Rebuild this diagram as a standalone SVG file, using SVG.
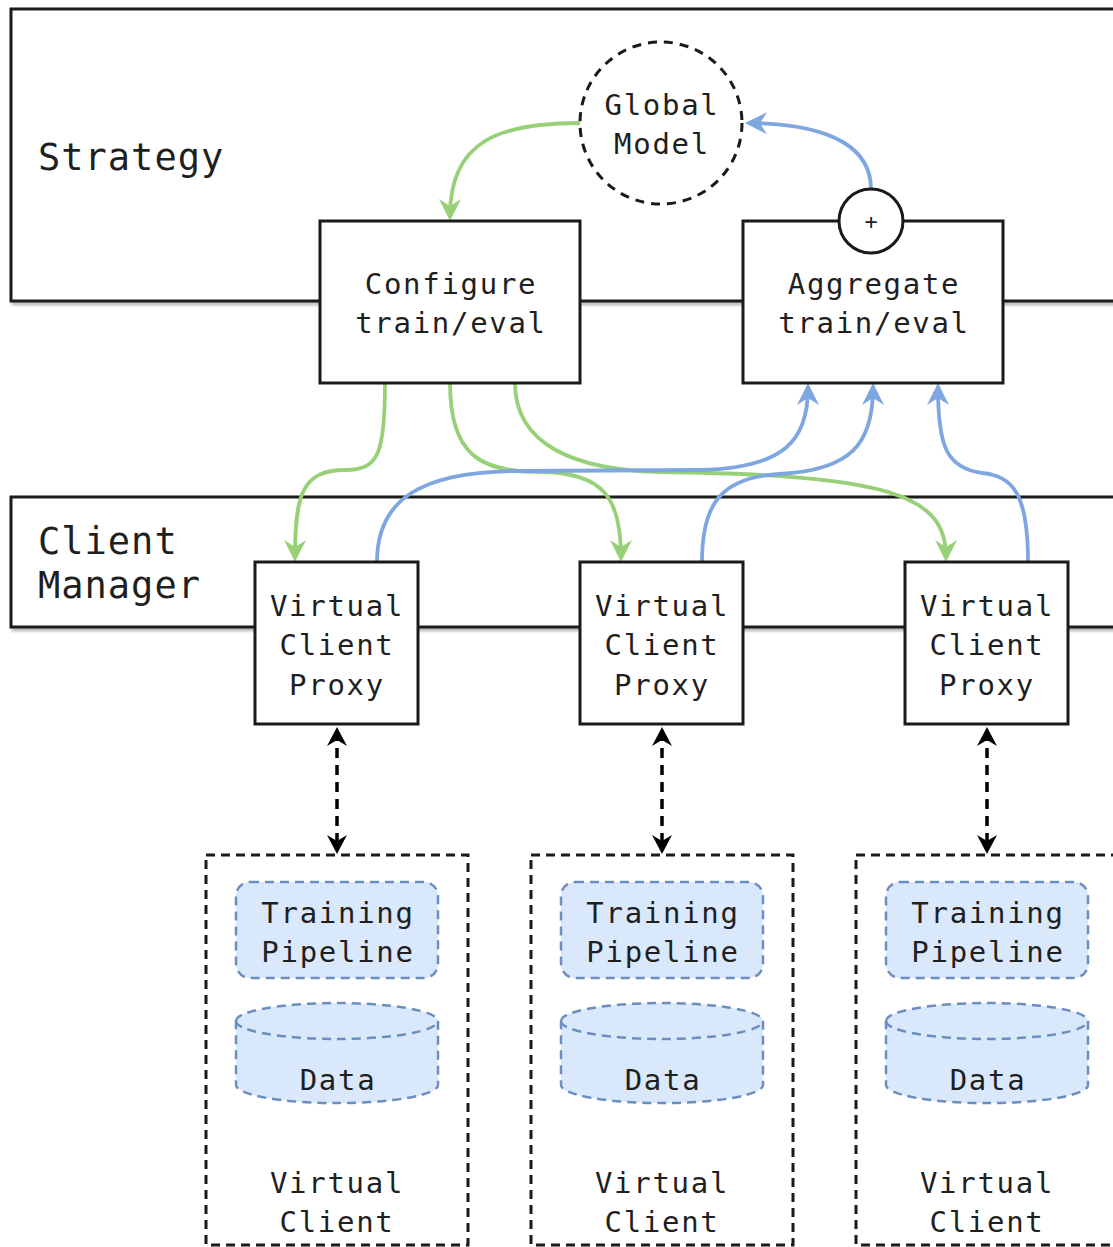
<svg xmlns="http://www.w3.org/2000/svg" width="1113" height="1247" viewBox="0 0 1113 1247">
  <style>
    text { font-family: "DejaVu Sans Mono", "Liberation Mono", monospace; fill: #1f1f1f; text-anchor: middle; }
    .lbl { font-size: 29px; letter-spacing: 1.7px; }
    .big { font-size: 37px; letter-spacing: 1px; text-anchor: start; }
    .box { fill: #ffffff; stroke: #1a1a1a; stroke-width: 3; }
    .container { fill: #ffffff; stroke: #1a1a1a; stroke-width: 3; filter: url(#shadow); }
    .vclient { fill: #ffffff; stroke: #1a1a1a; stroke-width: 3; stroke-dasharray: 9 6; }
    .blueshape { fill: #dae8fc; stroke: #6c8ebf; stroke-width: 2.5; stroke-dasharray: 9 6; }
    .green { fill: none; stroke: #97d077; stroke-width: 3.8; marker-end: url(#arrowGreen); }
    .blue { fill: none; stroke: #7ea6e0; stroke-width: 3.8; marker-end: url(#arrowBlue); }
    .link { fill: none; stroke: #000000; stroke-width: 3.5; stroke-dasharray: 10 7; marker-start: url(#arrowBlackStart); marker-end: url(#arrowBlack); }
  </style>
  <defs>
    <filter id="shadow" x="-5%" y="-5%" width="110%" height="120%">
      <feDropShadow dx="2" dy="3" stdDeviation="1.2" flood-color="#000000" flood-opacity="0.25"/>
    </filter>
    <marker id="arrowGreen" markerUnits="userSpaceOnUse" viewBox="-20 -13 28 26" refX="0" refY="0" markerWidth="28" markerHeight="26" orient="auto">
      <path d="M5,0 L-17,-11 L-10,0 L-17,11 z" fill="#97d077"/>
    </marker>
    <marker id="arrowBlue" markerUnits="userSpaceOnUse" viewBox="-20 -13 28 26" refX="0" refY="0" markerWidth="28" markerHeight="26" orient="auto">
      <path d="M5,0 L-17,-11 L-10,0 L-17,11 z" fill="#7ea6e0"/>
    </marker>
    <marker id="arrowBlack" markerUnits="userSpaceOnUse" viewBox="-20 -13 28 26" refX="0" refY="0" markerWidth="28" markerHeight="26" orient="auto">
      <path d="M4,0 L-15,-10 L-9,0 L-15,10 z" fill="#000000"/>
    </marker>
    <marker id="arrowBlackStart" markerUnits="userSpaceOnUse" viewBox="-20 -13 28 26" refX="0" refY="0" markerWidth="28" markerHeight="26" orient="auto-start-reverse">
      <path d="M4,0 L-15,-10 L-9,0 L-15,10 z" fill="#000000"/>
    </marker>
  </defs>

  <!-- containers -->
  <g id="strategy">
    <rect class="container" x="11" y="9" width="1130" height="292"/>
    <text class="big" x="38" y="170">Strategy</text>
  </g>
  <g id="client-manager">
    <rect class="container" x="11" y="497" width="1130" height="130"/>
    <text class="big" x="38" y="554">Client</text>
    <text class="big" x="38" y="598">Manager</text>
  </g>

  <!-- connectors -->
  <g id="connectors">
    <!-- global model feeds configuration -->
    <path class="green" d="M580,123 C500,123 450,140 450,216"/>
    <!-- configure fans out to the proxies -->
    <path class="green" d="M385,383 C385,455 378,470 345,470 C302,470 295,495 295,557"/>
    <path class="green" d="M450,383 C450,455 480,472 540,472 C605,472 621,500 621,557"/>
    <path class="green" d="M515,383 C515,445 575,470 660,472 C890,475 946,495 946,557"/>
    <!-- proxies report back for aggregation -->
    <path class="blue" d="M377,562 C377,500 420,471 520,471 L700,470 C785,468 808,440 808,388"/>
    <path class="blue" d="M702,562 C702,505 720,477 780,474 C850,470 873,445 873,388"/>
    <path class="blue" d="M1028,562 C1028,492 1012,476 982,473 C946,468 938,445 938,388"/>
    <!-- aggregated result updates the global model -->
    <path class="blue" d="M871,189 C871,150 835,124 750,123"/>
    <!-- proxy to virtual client links -->
    <path class="link" d="M337,731 L337,850"/>
    <path class="link" d="M662,731 L662,850"/>
    <path class="link" d="M987,731 L987,850"/>
  </g>

  <!-- strategy nodes -->
  <g id="global-model">
    <circle cx="661" cy="123" r="81" fill="#ffffff" stroke="#1a1a1a" stroke-width="3" stroke-dasharray="9 7"/>
    <text class="lbl" x="662" y="115">Global</text>
    <text class="lbl" x="662" y="154">Model</text>
  </g>
  <g id="configure">
    <rect class="box" x="320" y="221" width="260" height="162"/>
    <text class="lbl" x="451" y="294">Configure</text>
    <text class="lbl" x="451" y="333">train/eval</text>
  </g>
  <g id="aggregate">
    <rect class="box" x="743" y="221" width="260" height="162"/>
    <text class="lbl" x="874" y="294">Aggregate</text>
    <text class="lbl" x="874" y="333">train/eval</text>
  </g>
  <g id="sum">
    <circle cx="871" cy="221" r="32" fill="#ffffff" stroke="#1a1a1a" stroke-width="3"/>
    <text x="871" y="229" style="font-size:22px">+</text>
  </g>

  <!-- client proxies -->
  <g id="proxy-1">
    <rect class="box" x="255" y="562" width="163" height="162"/>
    <text class="lbl" x="337" y="616">Virtual</text>
    <text class="lbl" x="337" y="655">Client</text>
    <text class="lbl" x="337" y="695">Proxy</text>
  </g>
  <g id="proxy-2">
    <rect class="box" x="580" y="562" width="163" height="162"/>
    <text class="lbl" x="662" y="616">Virtual</text>
    <text class="lbl" x="662" y="655">Client</text>
    <text class="lbl" x="662" y="695">Proxy</text>
  </g>
  <g id="proxy-3">
    <rect class="box" x="905" y="562" width="163" height="162"/>
    <text class="lbl" x="987" y="616">Virtual</text>
    <text class="lbl" x="987" y="655">Client</text>
    <text class="lbl" x="987" y="695">Proxy</text>
  </g>

  <!-- virtual clients -->
  <g id="virtual-client-1">
    <rect class="vclient" x="206" y="855" width="262" height="390"/>
    <rect class="blueshape" x="236" y="882" width="202" height="96" rx="14"/>
    <text class="lbl" x="338" y="923">Training</text>
    <text class="lbl" x="338" y="962">Pipeline</text>
    <path class="blueshape" d="M236,1021 A101,18 0 0 1 438,1021 L438,1085 A101,18 0 0 1 236,1085 Z"/>
    <path class="blueshape" style="fill:none" d="M236,1021 A101,18 0 0 0 438,1021"/>
    <text class="lbl" x="338" y="1090">Data</text>
    <text class="lbl" x="337" y="1193">Virtual</text>
    <text class="lbl" x="337" y="1232">Client</text>
  </g>
  <g id="virtual-client-2">
    <rect class="vclient" x="531" y="855" width="262" height="390"/>
    <rect class="blueshape" x="561" y="882" width="202" height="96" rx="14"/>
    <text class="lbl" x="663" y="923">Training</text>
    <text class="lbl" x="663" y="962">Pipeline</text>
    <path class="blueshape" d="M561,1021 A101,18 0 0 1 763,1021 L763,1085 A101,18 0 0 1 561,1085 Z"/>
    <path class="blueshape" style="fill:none" d="M561,1021 A101,18 0 0 0 763,1021"/>
    <text class="lbl" x="663" y="1090">Data</text>
    <text class="lbl" x="662" y="1193">Virtual</text>
    <text class="lbl" x="662" y="1232">Client</text>
  </g>
  <g id="virtual-client-3">
    <rect class="vclient" x="856" y="855" width="262" height="390"/>
    <rect class="blueshape" x="886" y="882" width="202" height="96" rx="14"/>
    <text class="lbl" x="988" y="923">Training</text>
    <text class="lbl" x="988" y="962">Pipeline</text>
    <path class="blueshape" d="M886,1021 A101,18 0 0 1 1088,1021 L1088,1085 A101,18 0 0 1 886,1085 Z"/>
    <path class="blueshape" style="fill:none" d="M886,1021 A101,18 0 0 0 1088,1021"/>
    <text class="lbl" x="988" y="1090">Data</text>
    <text class="lbl" x="987" y="1193">Virtual</text>
    <text class="lbl" x="987" y="1232">Client</text>
  </g>
</svg>
